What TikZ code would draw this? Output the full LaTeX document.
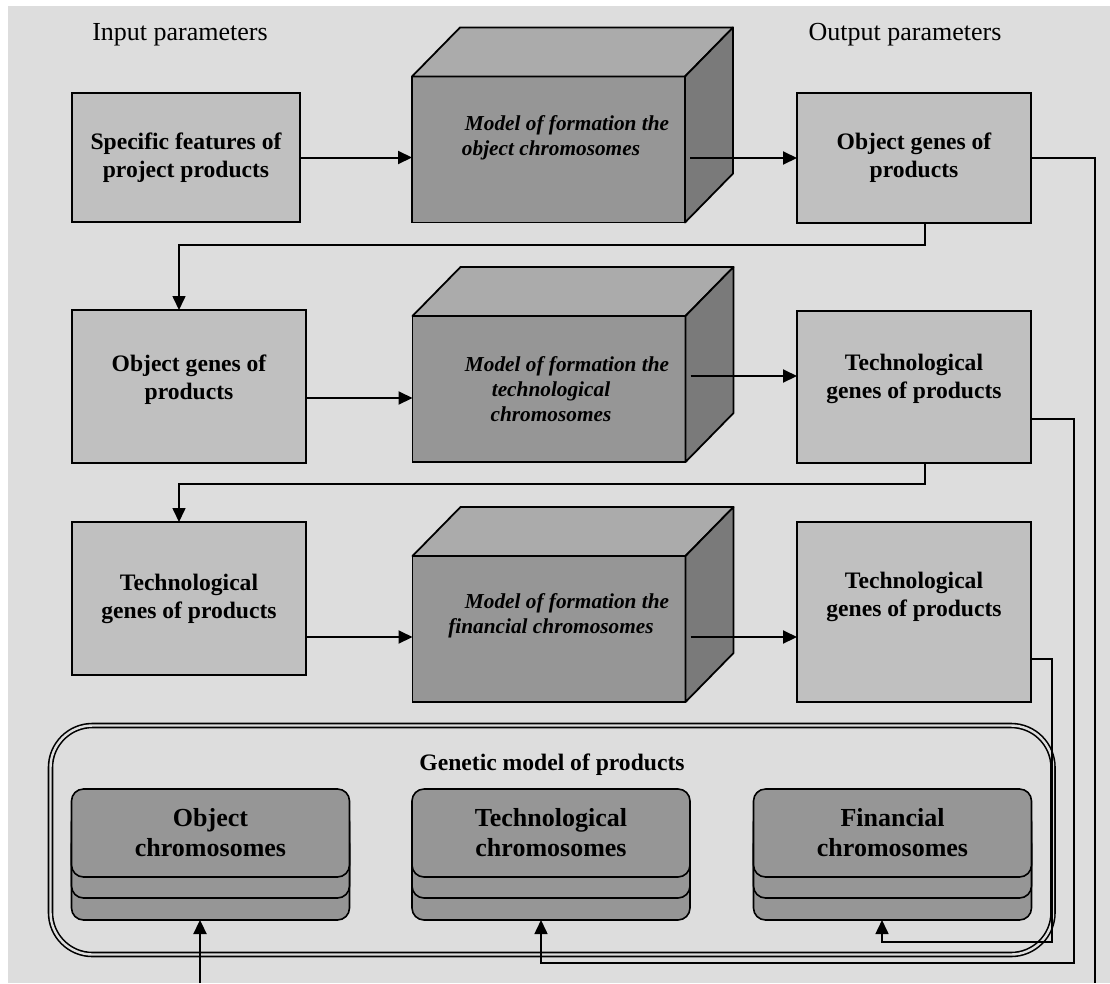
\documentclass[tikz,border=0pt]{standalone}
\usepackage{fontspec}
\setmainfont{Liberation Serif}
\usetikzlibrary{arrows.meta,calc}
\definecolor{paper}{gray}{0.867}
\definecolor{boxfill}{gray}{0.753}
\definecolor{cubefront}{gray}{0.59}
\definecolor{cubetop}{gray}{0.67}
\definecolor{cubeside}{gray}{0.48}
\definecolor{chromfill}{gray}{0.59}

% top and right faces of a box drawn behind a front-face node
\newcommand\cubeshell[1]{%
  \filldraw[fill=cubetop, line width=1.8pt, line join=round]
    (#1.north west) -- ++(48,-49) -- ($(#1.north east)+(48,-49)$) -- (#1.north east) -- cycle;
  \filldraw[fill=cubeside, line width=1.8pt, line join=round]
    (#1.north east) -- ++(48,-49) -- ($(#1.south east)+(48,-49)$) -- (#1.south east) -- cycle;
}

\begin{document}
\begin{tikzpicture}[x=1pt,y=-1pt,
  box/.style={draw, line width=2pt, fill=boxfill, inner sep=0pt, outer sep=0pt},
  face/.style={draw, line width=1.8pt, fill=cubefront, inner sep=0pt, outer sep=0pt,
               minimum width=273pt, minimum height=146pt},
  boxtext/.style={font=\fontsize{23.6}{28}\selectfont\bfseries, align=center},
  cubetext/.style={font=\fontsize{21.3}{25}\selectfont\bfseries\itshape, align=center},
  chromtext/.style={font=\fontsize{26}{30}\selectfont\bfseries, align=center},
  headtext/.style={font=\fontsize{26}{30}\selectfont, anchor=base},
  arr/.style={line width=2pt, -{Triangle[length=14pt,width=13pt]}},
  arrthin/.style={line width=1.6pt, -{Triangle[length=14pt,width=13pt]}},
  wire/.style={line width=1.6pt},
  card/.style={draw, line width=1.6pt, fill=chromfill, rounded corners=12pt,
               minimum width=278pt, minimum height=88pt, inner sep=0pt, outer sep=0pt},
]
\useasboundingbox (0,0) rectangle (1110,983);
\fill[white] (0,0) rectangle (1110,983);
\fill[paper] (8,6) rectangle (1110,983);

% column headings
\node[headtext] (hin) at (180,40) {Input parameters};
\node[headtext] (hout) at (905,40) {Output parameters};

% ---- row 1
\node[box, minimum width=228pt, minimum height=129pt] (in1) at (186,157.5) {};
\node[boxtext] (in1t) at (in1.center) {Specific features of\\project products};
\node[face] (cube1) at (548.5,149.5) {};
\cubeshell{cube1}
\node[cubetext] (cube1t) at ([xshift=2.5pt,yshift=12pt]cube1.center)
  {\hspace*{32pt}Model of formation the\\object chromosomes};
\node[box, minimum width=234pt, minimum height=130pt] (out1) at (914,158) {};
\node[boxtext] (out1t) at (out1.center) {Object genes of\\products};

% ---- row 2
\node[box, minimum width=234pt, minimum height=153pt] (in2) at (189,386.5) {};
\node[boxtext] (in2t) at ([yshift=7pt]in2.center) {Object genes of\\products};
\node[face] (cube2) at (549,389) {};
\cubeshell{cube2}
\node[cubetext] (cube2t) at ([xshift=2pt]cube2.center)
  {\hspace*{32pt}Model of formation the\\technological\\chromosomes};
\node[box, minimum width=234pt, minimum height=152pt] (out2) at (914,387) {};
\node[boxtext] (out2t) at ([yshift=8pt]out2.center) {Technological\\genes of products};

% ---- row 3
\node[box, minimum width=234pt, minimum height=153pt] (in3) at (189,598.5) {};
\node[boxtext] (in3t) at (in3.center) {Technological\\genes of products};
\node[face] (cube3) at (549,629) {};
\cubeshell{cube3}
\node[cubetext] (cube3t) at ([xshift=2pt,yshift=13pt]cube3.center)
  {\hspace*{32pt}Model of formation the\\financial chromosomes};
\node[box, minimum width=234pt, minimum height=180pt] (out3) at (914,612) {};
\node[boxtext] (out3t) at ([yshift=15pt]out3.center) {Technological\\genes of products};

% ---- genetic model frame
\node[draw, line width=1.6pt, double=paper, double distance=2.4pt, rounded corners=42pt,
      minimum width=1002.5pt, minimum height=229pt, inner sep=0pt] (gm) at (551.75,840) {};
\node[boxtext] (gmt) at (552,765) {Genetic model of products};

% chromosome stacks: bottom card, middle card, top card with label
\foreach \nm/\cx/\lbl in {obj/210.5/{Object\\chromosomes},
                          tec/551/{Technological\\chromosomes},
                          fin/892.5/{Financial\\chromosomes}}{
  \node[card] (\nm3) at (\cx,876) {};
  \node[card] (\nm2) at (\cx,854) {};
  \node[card, chromtext] (\nm1) at (\cx,833) {\lbl};
}

% ---- connectors: row 1
\draw[arr] (in1.east) -- (in1.east -| cube1.west);
\draw[arr] (out1.west -| cube1.east) ++(5,0) -- (out1.west);
\coordinate (e1) at (1095,983);
\draw[wire] (out1.east) -| (e1);
\coordinate (k1) at (179,245);
\draw[arrthin] ([xshift=11pt]out1.south) |- (k1) -- (k1 |- in2.north);

% ---- connectors: row 2
\coordinate (p2) at ([yshift=-11.5pt]in2.east);
\draw[arr] (p2) -- (p2 -| cube2.west);
\coordinate (q2) at ([yshift=11pt]out2.west);
\draw[arr] (q2 -| cube2.east) ++(5,0) -- (q2);
\coordinate (r2) at ([yshift=-32pt]out2.east);
\coordinate (b2) at (1074,963);
\draw[arrthin] (r2) -| (b2) -| ([xshift=-10pt]tec3.south);
\coordinate (k2) at (179,484);
\draw[arrthin] ([xshift=11pt]out2.south) |- (k2) -- (k2 |- in3.north);

% ---- connectors: row 3
\coordinate (p3) at ([yshift=-38.5pt]in3.east);
\draw[arr] (p3) -- (p3 -| cube3.west);
\coordinate (q3) at ([yshift=-25pt]out3.west);
\draw[arr] (q3 -| cube3.east) ++(5,0) -- (q3);
\coordinate (r3) at ([yshift=-47pt]out3.east);
\coordinate (b3) at (1052,942);
\draw[arrthin] (r3) -| (b3) -| ([xshift=-10.5pt]fin3.south);

% ---- feed into the object chromosomes
\coordinate (e0) at (200,983);
\draw[arr, line width=2.4pt] (e0) -- (e0 |- obj3.south);
\end{tikzpicture}
\end{document}
